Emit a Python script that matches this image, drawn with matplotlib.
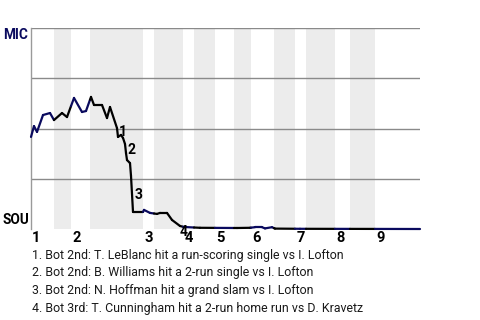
import numpy as np
import matplotlib
matplotlib.use("Agg")
import matplotlib.pyplot as plt
from matplotlib.collections import LineCollection

plt.rcParams['font.family'] = ['Roboto', 'DejaVu Sans']

# game progress (arbitrary units) and MIC win probability (%)
progress = [0, 3, 6, 12, 19, 23, 31, 36, 43, 51, 55, 60, 63, 71, 76, 79, 86, 87, 90,
            92, 94, 95, 96, 99, 100, 102, 112, 113, 119, 126, 129, 136, 141, 149, 153,
            169, 206, 219, 224, 231, 234, 241, 244, 269, 389]
mic_wp = [45.8, 51.2, 48.3, 56.7, 57.7, 54.2, 57.7, 55.7, 65.2, 58.2, 58.7, 65.7, 61.7,
          61.7, 55.2, 60.7, 50.2, 45.8, 46.8, 45.3, 42.3, 37.8, 34.3, 32.8, 26.4, 8.5,
          8.5, 9.5, 8.0, 7.5, 8.0, 8.0, 4.5, 1.5, 1.0, 0.6, 0.5, 0.6, 0.9, 0.9, 0.3, 0.9,
          0.2, 0.1, 0.0]

# half-inning boundaries: start of top half, start of bottom half
inning_labels = ['1', '2', '3', '4', '5', '6', '7', '8', '9']
top_start = [0, 40, 112, 152, 184, 220, 264, 304, 344]
bot_start = [23, 59, 123, 163, 203, 243, 275, 319, None]
game_end = 389

events = [
    "1. Bot 2nd: T. LeBlanc hit a run-scoring single vs I. Lofton",
    "2. Bot 2nd: B. Williams hit a 2-run single vs I. Lofton",
    "3. Bot 2nd: N. Hoffman hit a grand slam vs I. Lofton",
    "4. Bot 3rd: T. Cunningham hit a 2-run home run vs D. Kravetz",
]
event_pos = [87.5, 97, 104, 149]
event_wp = [48.3, 39.3, 16.9, -1.5]

navy = '#0a0a5e'

fig = plt.figure(figsize=(4.8, 3.2), dpi=100)
ax = fig.add_axes([31/480, 1 - 229/320, (420 - 31)/480, (229 - 28)/320])
ax.set_xlim(0, game_end)
ax.set_ylim(0, 100)

# bottom-half bands
for i, b in enumerate(bot_start):
    if b is None:
        continue
    end = top_start[i + 1] if i + 1 < len(top_start) else game_end
    ax.axvspan(b, end, color='#ececec', lw=0, zorder=0)

for yv in [25, 50, 75, 100]:
    ax.axhline(yv, color='#8a8a8a', lw=1.0, zorder=1)

# build line segments coloured by half-inning
x = np.array(progress, float)
y = np.array(mic_wp, float)
bounds = [b for b in bot_start if b is not None] + top_start[1:]
xs = np.unique(np.concatenate([x, [b for b in bounds if x[0] < b < x[-1]]]))
ys = np.interp(xs, x, y)

def in_bottom(xm):
    for i, b in enumerate(bot_start):
        if b is None:
            continue
        end = top_start[i + 1] if i + 1 < len(top_start) else game_end
        if b <= xm < end:
            return True
    return False

segs, cols = [], []
for i in range(len(xs) - 1):
    segs.append([(xs[i], ys[i]), (xs[i + 1], ys[i + 1])])
    cols.append('black' if in_bottom((xs[i] + xs[i + 1]) / 2) else navy)
lc = LineCollection(segs, colors=cols, linewidths=1.6, zorder=3, clip_on=False,
                    capstyle='round', joinstyle='round')
ax.add_collection(lc)

for lab, px, py in zip(['1', '2', '3', '4'], event_pos, event_wp):
    ax.text(px, py, lab, fontsize=10, fontweight='bold', color='black',
            ha='left', va='center', zorder=4, clip_on=False)

ax.set_xticks([])
ax.set_yticks([])
for s in ['top', 'right', 'bottom']:
    ax.spines[s].set_visible(False)
ax.spines['left'].set_color('#9a9a9a')
ax.spines['left'].set_linewidth(1.0)

ax.text(-0.072, 1 - 7/201, 'MIC', transform=ax.transAxes, fontsize=9.8,
        fontweight='bold', color=navy, ha='left', va='center')
ax.text(-0.072, 9/201, 'SOU', transform=ax.transAxes, fontsize=9.8,
        fontweight='bold', color='black', ha='left', va='center')

for lab, st in zip(inning_labels, top_start):
    ax.annotate(lab, xy=(st, 0), xytext=(1.2, -9), textcoords='offset pixels',
                fontsize=10.5, fontweight='bold', ha='left', va='center',
                annotation_clip=False)

for i, ev in enumerate(events):
    fig.text(32/480, 1 - (255 + i*17.7)/320, ev, fontsize=8.9, color='#1a1a1a',
             ha='left', va='center')

fig.savefig('out.png', dpi=100)
